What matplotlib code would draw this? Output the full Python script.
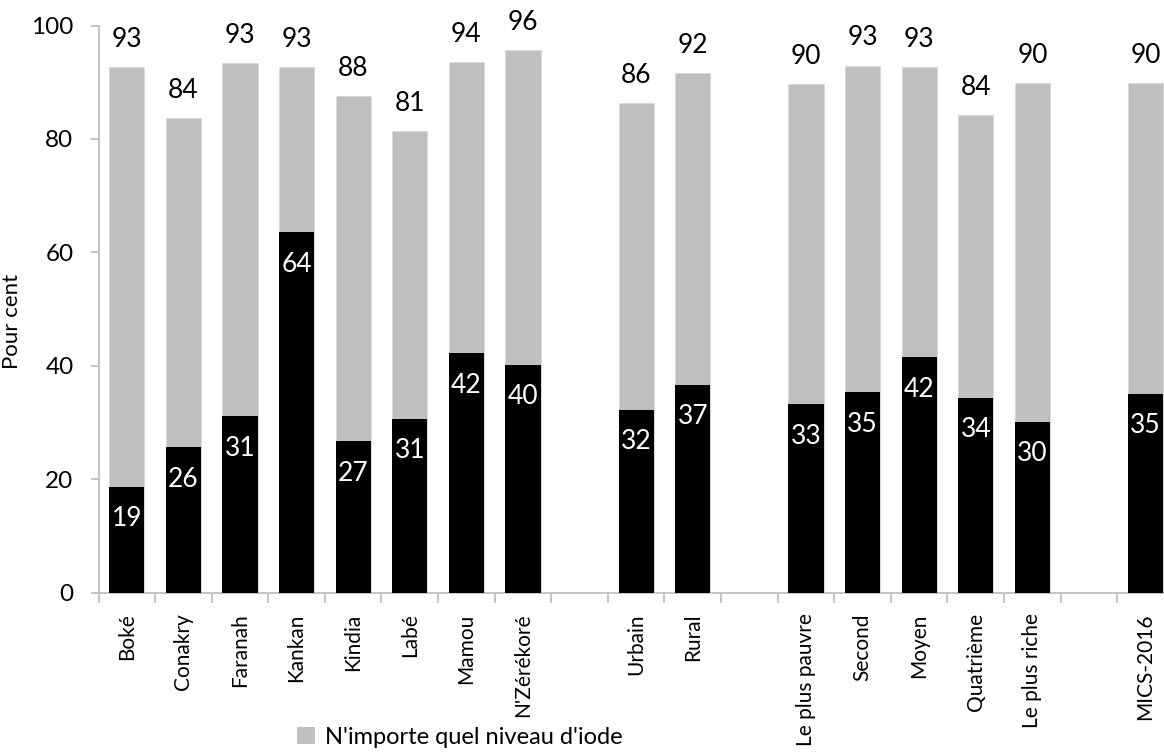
import matplotlib
matplotlib.use("Agg")
import matplotlib.pyplot as plt
from matplotlib.patches import Patch
import numpy as np

plt.rcParams['font.family'] = ['Lato', 'DejaVu Sans']

# Categories (empty strings are spacer slots between groups)
categories = ["Boké", "Conakry", "Faranah", "Kankan", "Kindia", "Labé", "Mamou", "N'Zérékoré",
              "",
              "Urbain", "Rural",
              "",
              "Le plus pauvre", "Second", "Moyen", "Quatrième", "Le plus riche",
              "",
              "MICS-2016"]

# Any level of iodine (grey) and adequately iodized (black); None for spacer slots
any_iodine = [92.6, 83.6, 93.3, 92.6, 87.5, 81.4, 93.6, 95.7,
              None,
              86.3, 91.6,
              None,
              89.6, 92.9, 92.6, 84.2, 89.8,
              None,
              89.8]
adequate = [18.6, 25.6, 31.1, 63.5, 26.7, 30.6, 42.2, 40.2,
            None,
            32.2, 36.6,
            None,
            33.2, 35.3, 41.5, 34.3, 30.1,
            None,
            35.0]

legend_label = "N'importe quel niveau d'iode"
y_label = "Pour cent"
y_ticks = [0, 20, 40, 60, 80, 100]

GREY = "#BFBFBF"
AXIS = "#BFBFBF"

fig = plt.figure(figsize=(11.64, 7.56), dpi=100)
ax = fig.add_axes([98.5 / 1164, (756 - 592.5) / 756, 1075.4 / 1164, 567 / 756])

idx = [i for i, v in enumerate(any_iodine) if v is not None]
g_vals = [any_iodine[i] for i in idx]
b_vals = [adequate[i] for i in idx]

width = 0.62
ax.bar(idx, g_vals, width=width, color=GREY, edgecolor="#D9D9D9", linewidth=0.6, zorder=2)
ax.bar(idx, b_vals, width=width, color="black", zorder=3)

for x, v in zip(idx, g_vals):
    ax.annotate(f"{v:.0f}", xy=(x, v), xytext=(0, 20), textcoords="offset points",
                ha="center", va="center", fontsize=19, color="black", annotation_clip=False)
for x, v in zip(idx, b_vals):
    ax.annotate(f"{v:.0f}", xy=(x, v), xytext=(0, -23), textcoords="offset points",
                ha="center", va="center", fontsize=19, color="white", zorder=4)

ax.set_xlim(-0.5, len(categories) - 0.5)
ax.set_ylim(0, 100)
ax.set_yticks(y_ticks)
ax.set_yticklabels([str(t) for t in y_ticks], fontsize=17.5)

ax.set_xticks(range(len(categories)))
ax.set_xticklabels(categories, rotation=90, fontsize=15)
ax.set_xticks(np.arange(-0.5, len(categories)), minor=True)
ax.tick_params(axis="x", which="major", length=0, pad=15)
ax.tick_params(axis="x", which="minor", length=7, width=1.3, color=AXIS)
ax.tick_params(axis="y", length=6, width=1.3, color=AXIS, pad=12)

for side in ("top", "right"):
    ax.spines[side].set_visible(False)
for side in ("left", "bottom"):
    ax.spines[side].set_color(AXIS)
    ax.spines[side].set_linewidth(1.3)

ax.set_ylabel(y_label, fontsize=16)
ax.yaxis.set_label_coords(-0.071, 0.478)

fig.legend(handles=[Patch(facecolor=GREY, edgecolor="none")], labels=[legend_label],
           loc="center left", bbox_to_anchor=(297 / 1164, (756 - 737) / 756), frameon=False,
           fontsize=17, handlelength=0.75, handleheight=0.75, handletextpad=0.45, borderpad=0,
           borderaxespad=0)

fig.savefig("out.png", dpi=100)
